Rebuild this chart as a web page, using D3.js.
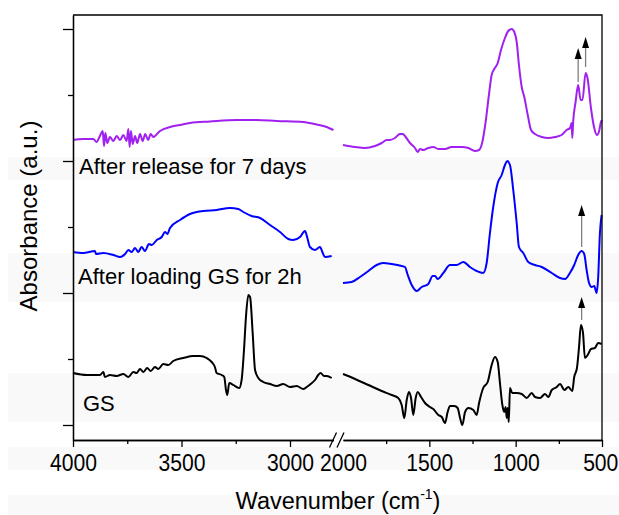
<!DOCTYPE html>
<html>
<head>
<meta charset="utf-8">
<script src="https://cdn.jsdelivr.net/npm/d3@7"></script>
<style>
  body { margin: 0; background: #fff; }
</style>
</head>
<body>
<div id="chart"></div>
<script>
// spectra: [wavenumber (cm-1), offset absorbance (a.u.)]
const gsHigh = [[4000,52],[3937,50],[3876,50],[3860,53],[3853,48],[3830,50],[3799,49],[3768,51],[3745,48],[3722,53],[3707,52],[3691,56],[3676,53],[3658,57],[3642,54],[3622,58],[3607,56],[3584,61],[3561,60],[3538,64],[3492,67],[3446,69],[3415,69],[3384,67],[3361,63],[3346,58],[3338,52],[3315,50],[3303,48],[3295,35],[3289,30],[3280,42],[3261,40],[3246,38],[3234,37],[3223,45],[3212,75],[3203,108],[3192,130],[3184,128],[3172,92],[3161,55],[3146,47],[3123,43],[3092,41],[3061,39],[3031,41],[3000,38],[2969,39],[2939,36],[2923,38],[2905,41],[2885,45],[2870,50],[2859,52],[2843,49],[2831,49],[2808,47]];
const gsLow = [[2000,51],[1930,46],[1853,40],[1776,34],[1718,30],[1680,27],[1660,20],[1645,7],[1631,25],[1618,33],[1606,27],[1593,10],[1579,27],[1567,33],[1548,28],[1525,22],[1496,18],[1477,16],[1448,10],[1428,8],[1409,2],[1394,13],[1380,19],[1355,19],[1336,17],[1322,7],[1309,0],[1293,13],[1274,17],[1245,15],[1226,10],[1212,22],[1188,37],[1162,43],[1139,60],[1120,68],[1104,63],[1091,42],[1077,20],[1066,13],[1058,18],[1052,7],[1046,17],[1040,3],[1033,37],[1020,32],[994,32],[965,31],[936,27],[907,32],[888,28],[859,27],[830,31],[811,28],[791,35],[762,38],[743,41],[718,35],[695,38],[672,34],[661,48],[645,57],[633,78],[622,100],[610,92],[599,67],[583,70],[564,76],[541,77],[522,82],[502,81]];

const loadedHigh = [[4000,173],[3953,172],[3899,174],[3894,171],[3860,172],[3814,170],[3783,168],[3760,171],[3745,175],[3730,173],[3714,177],[3699,173],[3684,178],[3668,174],[3650,181],[3637,180],[3614,185],[3591,188],[3576,193],[3565,191],[3553,197],[3507,205],[3461,211],[3400,214],[3338,215],[3277,217],[3238,216],[3215,213],[3177,209],[3138,207],[3092,200],[3046,193],[3008,186],[2985,185],[2954,188],[2931,194],[2920,187],[2908,178],[2885,175],[2862,178],[2849,172],[2839,168],[2808,169]];
const loadedLow = [[2000,142],[1950,143],[1902,148],[1853,154],[1805,160],[1767,162],[1718,161],[1660,159],[1641,158],[1625,150],[1602,140],[1573,134],[1544,138],[1506,141],[1481,149],[1467,149],[1452,146],[1419,152],[1380,160],[1342,160],[1303,163],[1265,158],[1226,154],[1188,152],[1168,162],[1149,192],[1130,218],[1104,242],[1081,250],[1062,260],[1049,264],[1033,260],[1014,235],[994,202],[981,178],[956,172],[927,163],[888,160],[849,158],[791,152],[743,147],[714,146],[686,152],[661,160],[638,170],[618,174],[603,171],[589,155],[575,142],[560,138],[545,139],[531,132],[522,148],[512,192],[502,210]];

const releasedHigh = [[4000,285],[3953,286],[3906,286],[3891,283],[3876,289],[3863,294],[3857,279],[3851,292],[3842,282],[3830,288],[3814,284],[3799,289],[3783,285],[3768,290],[3753,284],[3745,296],[3739,278],[3733,294],[3725,281],[3714,289],[3704,282],[3691,291],[3679,284],[3667,291],[3654,285],[3642,291],[3630,288],[3599,294],[3553,298],[3507,300],[3461,302],[3369,303.5],[3246,305],[3154,305],[3061,304],[2939,303],[2877,300.5],[2831,298],[2800,295]];
const releasedLow = [[2000,280],[1930,278],[1873,277],[1815,279],[1776,282],[1747,285],[1728,285],[1699,287],[1670,291],[1654,291],[1637,288],[1612,282],[1583,277],[1567,273],[1554,276],[1535,275],[1506,277],[1477,278],[1448,276],[1409,276],[1371,278],[1313,278],[1274,277],[1236,274],[1212,275],[1193,283],[1174,303],[1155,330],[1139,350],[1124,356],[1104,362],[1085,375],[1062,387],[1043,394],[1023,396],[1008,393],[994,383],[981,360],[965,338],[950,328],[930,310],[911,295],[888,291],[849,288],[811,287],[772,288],[734,290],[705,295],[685,297],[676,302],[672,287],[667,303],[653,323],[638,340],[624,325],[613,325],[595,352],[584,347],[564,317],[545,297],[529,290],[518,293],[506,303],[500,305]];

const sampleNames = ["GS", "After loading GS for 2h", "After release for 7 days"];
const sampleColors = ["#000000", "#0000ff", "#a020f0"];

// arrows: wavenumber, shaft start, arrow tip (a.u.)
const arrows = [[638,343,377],[595,358,388],[618,178,220],[618,105,128]];

const highTicks = [4000, 3500, 3000];
const highMinor = [3750, 3250];
const lowTicks = [2000, 1500, 1000, 500];
const lowMinor = [1750, 1250, 750];
const yMajor = [0, 132, 264, 396];
const yMinor = [66, 198, 330];

const width = 619, height = 515;
const plotTop = 15, plotBottom = 440, plotLeft = 73, plotRight = 602;

const xHigh = d3.scaleLinear().domain([4000, 2800]).range([plotLeft, 333.4]);
const xLow = d3.scaleLinear().domain([2000, 500]).range([343, plotRight]);
const y = d3.scaleLinear().domain([-15, 410]).range([plotBottom, plotTop]);

const svg = d3.select("#chart").append("svg")
  .attr("width", width)
  .attr("height", height)
  .attr("font-family", "'Liberation Sans', Arial, sans-serif");

// faint background bands seen in the figure
[[157,180],[253,302],[373,422],[447,470],[495,515]].forEach(([a, b]) => {
  svg.append("rect").attr("x", 8).attr("y", a).attr("width", width - 8).attr("height", b - a)
    .attr("fill", "#f9f9f9");
});

const spectra = [
  [gsHigh, gsLow],
  [loadedHigh, loadedLow],
  [releasedHigh, releasedLow]
];

const lineHigh = d3.line().x(d => xHigh(d[0])).y(d => y(d[1])).curve(d3.curveMonotoneX);
const lineLow = d3.line().x(d => xLow(d[0])).y(d => y(d[1])).curve(d3.curveMonotoneX);

const curves = svg.append("g").attr("fill", "none").attr("stroke-width", 2)
  .attr("stroke-linejoin", "round");
spectra.forEach(([hi, lo], i) => {
  curves.append("path").attr("d", lineHigh(hi)).attr("stroke", sampleColors[i]);
  curves.append("path").attr("d", lineLow(lo)).attr("stroke", sampleColors[i]);
});

// arrows
arrows.forEach(([wn, from, to]) => {
  const x = xLow(wn);
  svg.append("line")
    .attr("x1", x).attr("x2", x)
    .attr("y1", y(from)).attr("y2", y(to) + 9)
    .attr("stroke", "#7f7f7f").attr("stroke-width", 1.3);
  svg.append("path")
    .attr("d", `M${x},${y(to)}L${x - 3.5},${y(to) + 11}L${x + 3.5},${y(to) + 11}Z`)
    .attr("fill", "#000");
});

// sample labels
const labelPos = [[83, 411], [78, 284], [79, 174]];
sampleNames.forEach((name, i) => {
  svg.append("text")
    .attr("x", labelPos[i][0]).attr("y", labelPos[i][1])
    .attr("font-size", 22)
    .attr("fill", "#000")
    .text(name);
});

// axes
function styleTicks(g) {
  g.select(".domain").attr("stroke", "#000").attr("stroke-width", 1.3);
  g.selectAll(".tick line").attr("stroke", "#000").attr("stroke-width", 1.3);
  g.selectAll(".tick text")
    .attr("y", 31).attr("dy", 0)
    .attr("font-size", 24)
    .attr("fill", "#000")
    .attr("transform", "scale(0.88,1)");
}

svg.append("g").attr("transform", `translate(0,${plotBottom})`)
  .call(d3.axisBottom(xHigh).tickValues(highTicks).tickSize(7).tickSizeOuter(0).tickFormat(d3.format("d")))
  .call(styleTicks);
svg.append("g").attr("transform", `translate(0,${plotBottom})`)
  .call(d3.axisBottom(xHigh).tickValues(highMinor).tickSize(4).tickSizeOuter(0).tickFormat(""))
  .call(styleTicks);

const gLow = svg.append("g").attr("transform", `translate(0,${plotBottom})`)
  .call(d3.axisBottom(xLow).tickValues(lowTicks).tickSize(7).tickSizeOuter(0).tickFormat(d3.format("d")))
  .call(styleTicks);
gLow.selectAll(".tick").filter(d => d === 2000).select("line").remove();
gLow.selectAll(".tick").filter(d => d === 500).select("text").attr("x", -2);
svg.append("g").attr("transform", `translate(0,${plotBottom})`)
  .call(d3.axisBottom(xLow).tickValues(lowMinor).tickSize(4).tickSizeOuter(0).tickFormat(""))
  .call(styleTicks);

svg.append("g").attr("transform", `translate(${plotLeft},0)`)
  .call(d3.axisLeft(y).tickValues(yMajor).tickSize(10).tickSizeOuter(0).tickFormat(""))
  .call(styleTicks);
svg.append("g").attr("transform", `translate(${plotLeft},0)`)
  .call(d3.axisLeft(y).tickValues(yMinor).tickSize(5).tickSizeOuter(0).tickFormat(""))
  .call(styleTicks);

// frame: top and right
svg.append("path")
  .attr("d", `M${plotLeft},${plotTop}H${plotRight}V${plotBottom}`)
  .attr("fill", "none").attr("stroke", "#000").attr("stroke-width", 1.3);

// axis break marks
[333, 340.5].forEach(cx => {
  svg.append("line")
    .attr("x1", cx - 3.5).attr("y1", plotBottom + 7.5)
    .attr("x2", cx + 3.5).attr("y2", plotBottom - 7.5)
    .attr("stroke", "#000").attr("stroke-width", 1.3);
});

// axis titles
const xt = svg.append("text")
  .attr("x", 338).attr("y", 509)
  .attr("text-anchor", "middle")
  .attr("font-size", 23.5)
  .attr("fill", "#000");
xt.append("tspan").text("Wavenumber (cm");
xt.append("tspan").attr("font-size", 14).attr("dy", -10).text("-1");
xt.append("tspan").attr("dy", 10).text(")");

svg.append("text")
  .attr("transform", "translate(37,216) rotate(-90)")
  .attr("text-anchor", "middle")
  .attr("font-size", 24)
  .attr("fill", "#000")
  .text("Absorbance (a.u.)");
</script>
</body>
</html>
